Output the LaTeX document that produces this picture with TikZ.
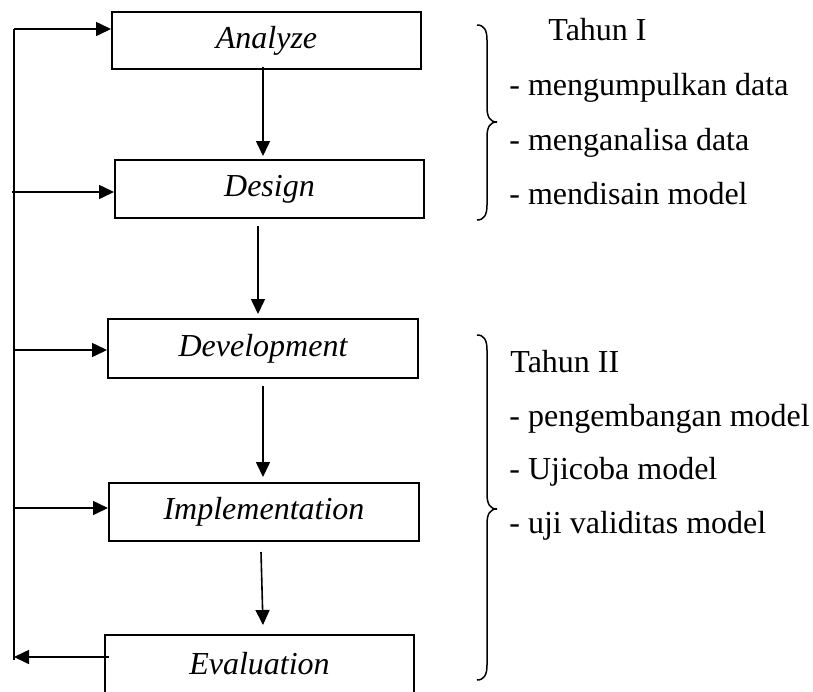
\documentclass[tikz,border=0pt]{standalone}
\usepackage{fontspec}
\setmainfont{Liberation Serif}
\usetikzlibrary{arrows.meta}
\tikzset{
  stagebox/.style={draw, line width=1pt, inner sep=0pt, font=\fontsize{16}{19}\selectfont\itshape, fill=white},
  flowarrow/.style={line width=0.8pt, -{Triangle[length=7.5pt,width=7pt]}},
  fbline/.style={line width=0.7pt},
  bracepath/.style={line width=0.75pt},
  notetext/.style={anchor=base west, inner sep=0pt, font=\fontsize{16}{19}\selectfont}
}
\begin{document}
\begin{tikzpicture}[x=0.5pt, y=-0.5pt]
\useasboundingbox (0,0) rectangle (813,691);
% boxes
\node[stagebox, minimum width=154.5pt, minimum height=28.5pt] (A) at (266.5,40.5) {Analyze};
\node[stagebox, minimum width=154.5pt, minimum height=29pt] (B) at (269.5,189) {Design};
\node[stagebox, minimum width=155pt, minimum height=29.5pt] (C) at (263,348.5) {Development};
\node[stagebox, minimum width=155pt, minimum height=29pt] (D) at (264,512) {Implementation};
\node[stagebox, minimum width=154.5pt, minimum height=29pt] (E) at (259.5,664) {Evaluation};
% vertical flow arrows
\draw[flowarrow] ([shift={(-3.5,-3)}]A.south) -- ([shift={(-6.5,-3)}]B.north);
\draw[flowarrow] ([shift={(-11.5,7)}]B.south) -- ([shift={(-5,-4)}]C.north);
\draw[flowarrow] ([shift={(0,7)}]C.south) -- ([shift={(-1,-5)}]D.north);
\draw[flowarrow] ([shift={(-3,10)}]D.south) -- ([shift={(3.5,-9)}]E.north);
% feedback line
\coordinate (fbtop) at (14,29);
\coordinate (fbB) at (12,192);
\coordinate (fbC) at (14,350);
\coordinate (fbD) at (14,508);
\coordinate (fbbot) at (14,660);
\coordinate (fbE) at (14,657);
\draw[fbline] (fbtop) -- (fbbot);
\draw[flowarrow] (fbtop) -- ([shift={(0,-11.5)}]A.west);
\draw[flowarrow] (fbB) -- ([shift={(0,3)}]B.west);
\draw[flowarrow] (fbC) -- ([shift={(0,1.5)}]C.west);
\draw[flowarrow] (fbD) -- ([shift={(0,-4)}]D.west);
\draw[flowarrow] ([shift={(5,-7)}]E.west) -- (fbE);
% braces
\draw[bracepath] (477,25) .. controls (484,25) and (487,30) .. (487,40) -- (487,107)
  .. controls (487,117) and (490,122) .. (497,122)
  .. controls (490,122) and (487,127) .. (487,137) -- (487,205)
  .. controls (487,215) and (484,220) .. (477,220);
\draw[bracepath] (477,335) .. controls (484,335) and (487,340) .. (487,350) -- (487,494)
  .. controls (487,504) and (490,509) .. (497,509)
  .. controls (490,509) and (487,514) .. (487,524) -- (487,665)
  .. controls (487,675) and (484,680) .. (477,680);
% texts
\node[notetext] (t1) at (548,40) {Tahun I};
\node[notetext] (t2) at (509,95) {- mengumpulkan data};
\node[notetext] (t3) at (509,150) {- menganalisa data};
\node[notetext] (t4) at (509,204) {- mendisain model};
\node[notetext] (u1) at (510,372) {Tahun II};
\node[notetext] (u2) at (509,426) {- pengembangan model};
\node[notetext] (u3) at (509,479) {- Ujicoba model};
\node[notetext] (u4) at (509,533) {- uji validitas model};
\end{tikzpicture}
\end{document}
